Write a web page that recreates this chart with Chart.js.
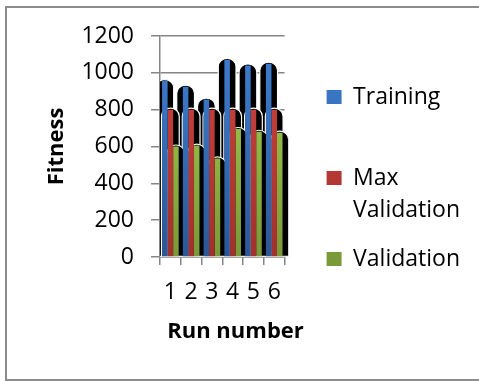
<!DOCTYPE html>
<html><head><meta charset="utf-8">
<script src="https://cdn.jsdelivr.net/npm/chart.js@4/dist/chart.umd.min.js"></script>
<style>html,body{margin:0;padding:0;background:#fff;} canvas{display:block;}</style>
</head><body>
<canvas id="c" width="479" height="381"></canvas>
<script>
const categories = ['1','2','3','4','5','6'];
const seriesNames = ['Training','Max Validation','Validation'];
const legendLines = [['Training',''],['Max','Validation'],['Validation','']];
const training = [955,925,855,1070,1040,1050];
const maxValidation = [800,800,800,800,800,800];
const validation = [600,605,535,695,680,675];
const yTicks = [0,200,400,600,800,1000,1200];
const xTitle = 'Run number';
const yTitle = 'Fitness';

const palette = [['#3f80d2','#2c5796'],['#d2443f','#a2302c'],['#a6d151','#7a9938']];
function grad(i){
  return (ctx) => {
    const a = ctx.chart.chartArea;
    if (!a) return palette[i][0];
    const g = ctx.chart.ctx.createLinearGradient(0, a.top, 0, a.bottom);
    g.addColorStop(0, palette[i][0]); g.addColorStop(1, palette[i][1]);
    return g;
  };
}
const AX = '#868686';
Chart.defaults.font.family = "'Open Sans', sans-serif";
Chart.defaults.color = '#000';

const framePlugin = {
  id: 'frame',
  beforeDraw(chart){
    const c = chart.ctx; c.save(); c.fillStyle = '#fff'; c.fillRect(0,0,chart.width,chart.height); c.restore();
  },
  afterDraw(chart){
    const c = chart.ctx; c.save(); c.strokeStyle = '#8c8c8c'; c.lineWidth = 2;
    c.strokeRect(6, 7, 480, 373); c.restore();
  }
};
const shadowPlugin = {
  id: 'shadows',
  beforeDatasetsDraw(chart){
    const c = chart.ctx, a = chart.chartArea;
    c.save();
    c.beginPath(); c.rect(a.left, 0, a.right - a.left + 4, chart.height); c.clip();
    for (let d = 0; d < chart.data.datasets.length; d++) {
      const meta = chart.getDatasetMeta(d);
      meta.data.forEach(el => {
        const p = el.getProps(['x','y','base','width'], true);
        const sw = p.width * 3.2, hw = sw / 2, ry = 8;
        const top = p.y - 1.5;
        c.beginPath();
        c.moveTo(p.x - hw, p.base);
        c.lineTo(p.x - hw, top + ry);
        c.ellipse(p.x, top + ry, hw, ry, 0, Math.PI, 2 * Math.PI);
        c.lineTo(p.x + hw, p.base);
        c.closePath();
        c.fillStyle = '#000'; c.fill();
        c.strokeStyle = '#fff'; c.lineWidth = 1.2; c.stroke();
      });
    }
    c.restore();
  }
};

new Chart(document.getElementById('c'), {
  type: 'bar',
  data: {
    labels: categories,
    datasets: [
      { label: seriesNames[0], data: training, backgroundColor: grad(0) },
      { label: seriesNames[1], data: maxValidation, backgroundColor: grad(1) },
      { label: seriesNames[2], data: validation, backgroundColor: grad(2) }
    ]
  },
  options: {
    responsive: false,
    animation: false,
    events: [],
    categoryPercentage: 0.8,
    barPercentage: 1.0,
    layout: { padding: { left: 1, right: 9, top: 36, bottom: 20 } },
    plugins: {
      tooltip: { enabled: false },
      title: {
        display: true, position: 'bottom', text: xTitle,
        font: { size: 22, weight: 'bold', lineHeight: 1.2 },
        padding: { top: 0, bottom: 16 }, color: '#000'
      },
      legend: {
        position: 'right',
        maxWidth: 220,
        labels: {
          boxWidth: 15, boxHeight: 14, padding: 17,
          font: { size: 23, lineHeight: '32px' },
          generateLabels(chart){
            const items = Chart.defaults.plugins.legend.labels.generateLabels(chart);
            items.forEach((it, i) => { it.text = legendLines[i]; it.lineWidth = 0; });
            return items;
          }
        }
      }
    },
    scales: {
      x: {
        grid: { display: true, offset: true, drawOnChartArea: false, drawTicks: true, tickLength: 8, color: AX, lineWidth: 1.5 },
        border: { display: true, color: AX, width: 1.5 },
        ticks: { font: { size: 23 }, padding: 14, maxRotation: 0, autoSkip: false, color: '#000' },
        afterFit(s){ s.height = 61.6; }
      },
      y: {
        min: 0, max: 1200,
        afterBuildTicks(s){ s.ticks = yTicks.map(v => ({ value: v })); },
        grid: { color: AX, lineWidth: 1.5, tickLength: 9, drawTicks: true },
        border: { display: true, color: AX, width: 1.5 },
        ticks: { font: { size: 23 }, padding: 17, color: '#000', callback: (v) => String(v) },
        title: { display: true, text: yTitle, font: { size: 22, weight: 'bold', lineHeight: 1.2 }, padding: { top: 43, bottom: 0 }, color: '#000' },
        afterFit(s){ s.width = 159; }
      },
      pad: {
        type: 'linear', position: 'right', display: true,
        grid: { display: false }, ticks: { display: false }, border: { display: false },
        afterFit(s){ s.width = 25; }
      }
    }
  },
  plugins: [framePlugin, shadowPlugin]
});
</script>
</body></html>
